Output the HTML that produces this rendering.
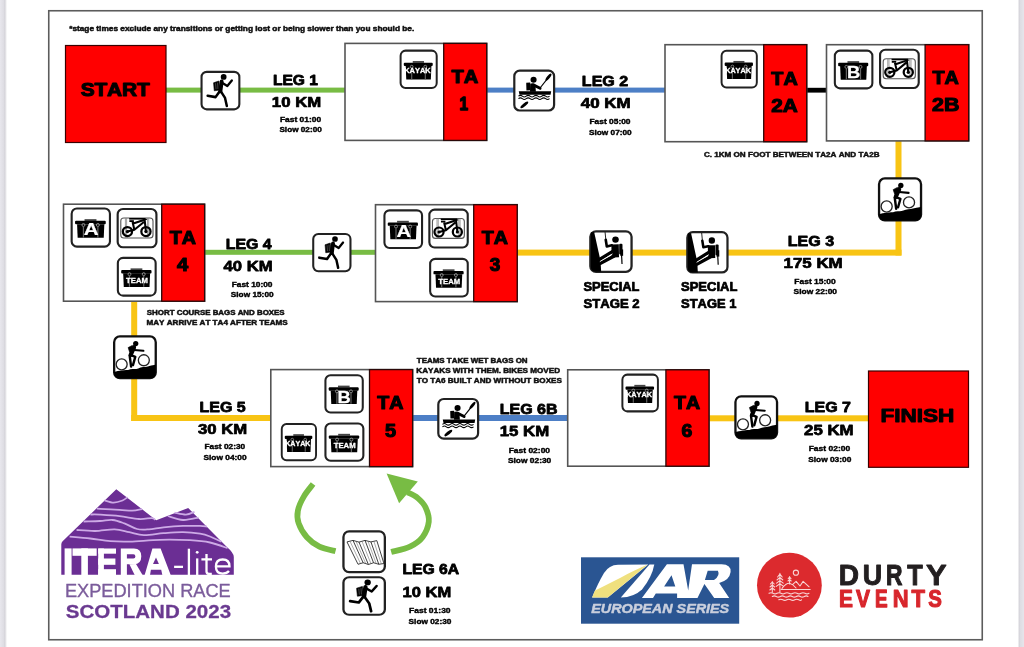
<!DOCTYPE html>
<html><head><meta charset="utf-8"><style>
html,body{margin:0;padding:0;background:#fff;width:1024px;height:647px;overflow:hidden;position:relative}
.st{position:absolute;top:0;height:647px}
svg text{font-kerning:none;font-variant-ligatures:none}
svg{display:block;filter:blur(0.45px);font-family:"Liberation Sans",sans-serif}
</style></head><body>
<svg width="1024" height="647" viewBox="0 0 1024 647">
<rect x="48.75" y="10.75" width="933.50" height="629.00" fill="none" stroke="#5c5c5c" stroke-width="1.6"/>
<rect x="166.00" y="87.60" width="180.00" height="5.00" fill="#78bc44"/>
<rect x="486.00" y="87.60" width="180.00" height="5.00" fill="#4d7fc6"/>
<rect x="806.00" y="87.80" width="21.00" height="4.80" fill="#000"/>
<rect x="895.50" y="141.00" width="6.00" height="114.50" fill="#f8c414"/>
<rect x="517.00" y="249.60" width="384.50" height="6.00" fill="#f8c414"/>
<rect x="204.00" y="249.80" width="171.00" height="5.00" fill="#78bc44"/>
<rect x="131.20" y="301.00" width="6.00" height="120.00" fill="#f8c414"/>
<rect x="131.20" y="415.00" width="140.00" height="6.00" fill="#f8c414"/>
<rect x="412.00" y="415.00" width="156.00" height="6.00" fill="#4d7fc6"/>
<rect x="709.00" y="415.30" width="160.00" height="6.00" fill="#f8c414"/>
<rect x="65.50" y="45.50" width="100.50" height="97.00" fill="#ff0000" stroke="#3a0000" stroke-width="1.2"/>
<text transform="translate(80.40,95.60) scale(1.1489,1)" font-size="18.02" font-weight="bold" fill="#000" stroke="#000" stroke-width="1.04" stroke-linejoin="round">START</text>
<rect x="868.50" y="371.00" width="100.00" height="96.30" fill="#ff0000" stroke="#3a0000" stroke-width="1.2"/>
<text transform="translate(880.39,421.80) scale(1.2532,1)" font-size="18.02" font-weight="bold" fill="#000" stroke="#000" stroke-width="0.96" stroke-linejoin="round">FINISH</text>
<rect x="345.00" y="43.40" width="141.70" height="97.00" fill="#fff" stroke="#555" stroke-width="1.6"/>
<rect x="443.70" y="43.40" width="43.00" height="97.00" fill="#ff0000" stroke="#2a0808" stroke-width="1.3"/>
<text transform="translate(451.28,83.35) scale(1.1093,1)" font-size="18.02" font-weight="bold" fill="#000" stroke="#000" stroke-width="1.08" stroke-linejoin="round">TA</text>
<text transform="translate(459.14,110.25) scale(0.8466,1)" font-size="18.02" font-weight="bold" fill="#000" stroke="#000" stroke-width="1.42" stroke-linejoin="round">1</text>
<rect x="665.00" y="44.70" width="141.70" height="97.00" fill="#fff" stroke="#555" stroke-width="1.6"/>
<rect x="763.70" y="44.70" width="43.00" height="97.00" fill="#ff0000" stroke="#2a0808" stroke-width="1.3"/>
<text transform="translate(771.28,85.00) scale(1.1008,1)" font-size="18.02" font-weight="bold" fill="#000" stroke="#000" stroke-width="1.09" stroke-linejoin="round">TA</text>
<text transform="translate(771.18,112.05) scale(1.1532,1)" font-size="18.02" font-weight="bold" fill="#000" stroke="#000" stroke-width="1.04" stroke-linejoin="round">2A</text>
<rect x="826.50" y="44.70" width="142.20" height="96.20" fill="#fff" stroke="#555" stroke-width="1.6"/>
<rect x="925.10" y="44.70" width="43.60" height="96.20" fill="#ff0000" stroke="#2a0808" stroke-width="1.3"/>
<text transform="translate(932.48,84.20) scale(1.1008,1)" font-size="18.02" font-weight="bold" fill="#000" stroke="#000" stroke-width="1.09" stroke-linejoin="round">TA</text>
<text transform="translate(931.96,111.45) scale(1.1900,1)" font-size="18.02" font-weight="bold" fill="#000" stroke="#000" stroke-width="1.01" stroke-linejoin="round">2B</text>
<rect x="63.50" y="204.20" width="141.10" height="97.00" fill="#fff" stroke="#555" stroke-width="1.6"/>
<rect x="161.70" y="204.20" width="42.90" height="97.00" fill="#ff0000" stroke="#2a0808" stroke-width="1.3"/>
<text transform="translate(169.68,244.20) scale(1.0922,1)" font-size="18.02" font-weight="bold" fill="#000" stroke="#000" stroke-width="1.10" stroke-linejoin="round">TA</text>
<text transform="translate(176.89,271.05) scale(1.1187,1)" font-size="18.02" font-weight="bold" fill="#000" stroke="#000" stroke-width="1.07" stroke-linejoin="round">4</text>
<rect x="375.50" y="204.70" width="141.70" height="96.90" fill="#fff" stroke="#555" stroke-width="1.6"/>
<rect x="473.70" y="204.70" width="43.50" height="96.90" fill="#ff0000" stroke="#2a0808" stroke-width="1.3"/>
<text transform="translate(481.68,244.20) scale(1.0922,1)" font-size="18.02" font-weight="bold" fill="#000" stroke="#000" stroke-width="1.10" stroke-linejoin="round">TA</text>
<text transform="translate(489.67,271.10) scale(1.0492,1)" font-size="18.02" font-weight="bold" fill="#000" stroke="#000" stroke-width="1.14" stroke-linejoin="round">3</text>
<rect x="270.80" y="369.60" width="141.80" height="97.00" fill="#fff" stroke="#555" stroke-width="1.6"/>
<rect x="369.50" y="369.60" width="43.10" height="97.00" fill="#ff0000" stroke="#2a0808" stroke-width="1.3"/>
<text transform="translate(377.28,409.20) scale(1.0922,1)" font-size="18.02" font-weight="bold" fill="#000" stroke="#000" stroke-width="1.10" stroke-linejoin="round">TA</text>
<text transform="translate(384.99,436.90) scale(1.1040,1)" font-size="18.02" font-weight="bold" fill="#000" stroke="#000" stroke-width="1.09" stroke-linejoin="round">5</text>
<rect x="567.70" y="369.80" width="141.30" height="96.40" fill="#fff" stroke="#555" stroke-width="1.6"/>
<rect x="665.90" y="369.80" width="43.10" height="96.40" fill="#ff0000" stroke="#2a0808" stroke-width="1.3"/>
<text transform="translate(673.98,409.20) scale(1.0879,1)" font-size="18.02" font-weight="bold" fill="#000" stroke="#000" stroke-width="1.10" stroke-linejoin="round">TA</text>
<text transform="translate(681.39,436.65) scale(1.0789,1)" font-size="18.02" font-weight="bold" fill="#000" stroke="#000" stroke-width="1.11" stroke-linejoin="round">6</text>
<text transform="translate(272.98,85.42) scale(1.0562,1)" font-size="14.75" font-weight="bold" fill="#000" stroke="#000" stroke-width="0.80" stroke-linejoin="round">LEG 1</text>
<text transform="translate(271.87,106.67) scale(1.1352,1)" font-size="14.75" font-weight="bold" fill="#000" stroke="#000" stroke-width="0.75" stroke-linejoin="round">10 KM</text>
<text transform="translate(279.96,122.43) scale(1.1936,1)" font-size="7.05" font-weight="bold" fill="#000" stroke="#000" stroke-width="0.38" stroke-linejoin="round">Fast 01:00</text>
<text transform="translate(279.39,131.88) scale(1.1643,1)" font-size="7.05" font-weight="bold" fill="#000" stroke="#000" stroke-width="0.39" stroke-linejoin="round">Slow 02:00</text>
<text transform="translate(581.85,86.42) scale(1.0876,1)" font-size="14.75" font-weight="bold" fill="#000" stroke="#000" stroke-width="0.78" stroke-linejoin="round">LEG 2</text>
<text transform="translate(580.77,107.52) scale(1.1493,1)" font-size="14.75" font-weight="bold" fill="#000" stroke="#000" stroke-width="0.74" stroke-linejoin="round">40 KM</text>
<text transform="translate(589.46,124.08) scale(1.1906,1)" font-size="7.05" font-weight="bold" fill="#000" stroke="#000" stroke-width="0.38" stroke-linejoin="round">Fast 05:00</text>
<text transform="translate(588.99,134.53) scale(1.1726,1)" font-size="7.05" font-weight="bold" fill="#000" stroke="#000" stroke-width="0.38" stroke-linejoin="round">Slow 07:00</text>
<text transform="translate(787.75,245.62) scale(1.0885,1)" font-size="14.75" font-weight="bold" fill="#000" stroke="#000" stroke-width="0.78" stroke-linejoin="round">LEG 3</text>
<text transform="translate(783.56,267.57) scale(1.1449,1)" font-size="14.75" font-weight="bold" fill="#000" stroke="#000" stroke-width="0.74" stroke-linejoin="round">175 KM</text>
<text transform="translate(794.36,284.32) scale(1.2025,1)" font-size="7.05" font-weight="bold" fill="#000" stroke="#000" stroke-width="0.37" stroke-linejoin="round">Fast 15:00</text>
<text transform="translate(793.58,294.17) scale(1.1949,1)" font-size="7.05" font-weight="bold" fill="#000" stroke="#000" stroke-width="0.38" stroke-linejoin="round">Slow 22:00</text>
<text transform="translate(225.76,249.03) scale(1.0766,1)" font-size="14.75" font-weight="bold" fill="#000" stroke="#000" stroke-width="0.79" stroke-linejoin="round">LEG 4</text>
<text transform="translate(223.57,270.78) scale(1.1304,1)" font-size="14.75" font-weight="bold" fill="#000" stroke="#000" stroke-width="0.75" stroke-linejoin="round">40 KM</text>
<text transform="translate(231.67,286.72) scale(1.1847,1)" font-size="7.05" font-weight="bold" fill="#000" stroke="#000" stroke-width="0.38" stroke-linejoin="round">Fast 10:00</text>
<text transform="translate(230.79,296.92) scale(1.1754,1)" font-size="7.05" font-weight="bold" fill="#000" stroke="#000" stroke-width="0.38" stroke-linejoin="round">Slow 15:00</text>
<text transform="translate(199.56,411.78) scale(1.0829,1)" font-size="14.75" font-weight="bold" fill="#000" stroke="#000" stroke-width="0.78" stroke-linejoin="round">LEG 5</text>
<text transform="translate(198.04,433.82) scale(1.1335,1)" font-size="14.75" font-weight="bold" fill="#000" stroke="#000" stroke-width="0.75" stroke-linejoin="round">30 KM</text>
<text transform="translate(204.47,449.42) scale(1.1817,1)" font-size="7.05" font-weight="bold" fill="#000" stroke="#000" stroke-width="0.38" stroke-linejoin="round">Fast 02:30</text>
<text transform="translate(203.48,460.02) scale(1.1865,1)" font-size="7.05" font-weight="bold" fill="#000" stroke="#000" stroke-width="0.38" stroke-linejoin="round">Slow 04:00</text>
<text transform="translate(499.75,413.57) scale(1.0857,1)" font-size="14.75" font-weight="bold" fill="#000" stroke="#000" stroke-width="0.78" stroke-linejoin="round">LEG 6B</text>
<text transform="translate(499.77,436.27) scale(1.1400,1)" font-size="14.75" font-weight="bold" fill="#000" stroke="#000" stroke-width="0.75" stroke-linejoin="round">15 KM</text>
<text transform="translate(508.66,452.87) scale(1.2025,1)" font-size="7.05" font-weight="bold" fill="#000" stroke="#000" stroke-width="0.37" stroke-linejoin="round">Fast 02:00</text>
<text transform="translate(507.88,463.42) scale(1.1921,1)" font-size="7.05" font-weight="bold" fill="#000" stroke="#000" stroke-width="0.38" stroke-linejoin="round">Slow 02:30</text>
<text transform="translate(804.75,411.53) scale(1.0843,1)" font-size="14.75" font-weight="bold" fill="#000" stroke="#000" stroke-width="0.78" stroke-linejoin="round">LEG 7</text>
<text transform="translate(804.04,434.52) scale(1.1405,1)" font-size="14.75" font-weight="bold" fill="#000" stroke="#000" stroke-width="0.75" stroke-linejoin="round">25 KM</text>
<text transform="translate(808.66,450.88) scale(1.2054,1)" font-size="7.05" font-weight="bold" fill="#000" stroke="#000" stroke-width="0.37" stroke-linejoin="round">Fast 02:00</text>
<text transform="translate(808.18,461.62) scale(1.1837,1)" font-size="7.05" font-weight="bold" fill="#000" stroke="#000" stroke-width="0.38" stroke-linejoin="round">Slow 03:00</text>
<text transform="translate(402.47,573.83) scale(1.0644,1)" font-size="14.75" font-weight="bold" fill="#000" stroke="#000" stroke-width="0.80" stroke-linejoin="round">LEG 6A</text>
<text transform="translate(402.48,597.23) scale(1.1207,1)" font-size="14.75" font-weight="bold" fill="#000" stroke="#000" stroke-width="0.76" stroke-linejoin="round">10 KM</text>
<text transform="translate(409.06,613.42) scale(1.2054,1)" font-size="7.05" font-weight="bold" fill="#000" stroke="#000" stroke-width="0.37" stroke-linejoin="round">Fast 01:30</text>
<text transform="translate(408.59,624.22) scale(1.1754,1)" font-size="7.05" font-weight="bold" fill="#000" stroke="#000" stroke-width="0.38" stroke-linejoin="round">Slow 02:30</text>
<text transform="translate(583.40,290.62) scale(1.0799,1)" font-size="11.99" font-weight="bold" fill="#000" stroke="#000" stroke-width="0.69" stroke-linejoin="round">SPECIAL</text>
<text transform="translate(583.40,307.62) scale(1.0964,1)" font-size="11.99" font-weight="bold" fill="#000" stroke="#000" stroke-width="0.68" stroke-linejoin="round">STAGE 2</text>
<text transform="translate(681.00,290.62) scale(1.0857,1)" font-size="11.99" font-weight="bold" fill="#000" stroke="#000" stroke-width="0.69" stroke-linejoin="round">SPECIAL</text>
<text transform="translate(681.00,307.62) scale(1.0814,1)" font-size="11.99" font-weight="bold" fill="#000" stroke="#000" stroke-width="0.69" stroke-linejoin="round">STAGE 1</text>
<text transform="translate(69.15,30.62) scale(1.1792,1)" font-size="7.05" font-weight="bold" fill="#111" stroke="#111" stroke-width="0.47" stroke-linejoin="round">*stage times exclude any transitions or getting lost or being slower than you should be.</text>
<text transform="translate(703.94,156.53) scale(1.2811,1)" font-size="6.32" font-weight="bold" fill="#111" stroke="#111" stroke-width="0.43" stroke-linejoin="round">C. 1KM ON FOOT BETWEEN TA2A AND TA2B</text>
<text transform="translate(146.85,314.83) scale(1.1473,1)" font-size="6.90" font-weight="bold" fill="#111" stroke="#111" stroke-width="0.48" stroke-linejoin="round">SHORT COURSE BAGS AND BOXES</text>
<text transform="translate(146.53,325.12) scale(1.1507,1)" font-size="7.05" font-weight="bold" fill="#111" stroke="#111" stroke-width="0.48" stroke-linejoin="round">MAY ARRIVE AT TA4 AFTER TEAMS</text>
<text transform="translate(416.79,362.93) scale(1.1527,1)" font-size="6.90" font-weight="bold" fill="#111" stroke="#111" stroke-width="0.48" stroke-linejoin="round">TEAMS TAKE WET BAGS ON</text>
<text transform="translate(416.33,372.83) scale(1.1296,1)" font-size="7.19" font-weight="bold" fill="#111" stroke="#111" stroke-width="0.49" stroke-linejoin="round">KAYAKS WITH THEM. BIKES MOVED</text>
<text transform="translate(416.78,382.62) scale(1.2266,1)" font-size="6.61" font-weight="bold" fill="#111" stroke="#111" stroke-width="0.45" stroke-linejoin="round">TO TA6 BUILT AND WITHOUT BOXES</text>
<g transform="translate(200.50,70.80) scale(0.9975,0.9900)"><rect x="1.05" y="1.05" width="37.9" height="37.9" rx="5.2" fill="#fff" stroke="#222" stroke-width="2.1"/>
<circle cx="23.2" cy="6.2" r="2.9" fill="#000"/>
<path d="M13.1 12.1 L18.4 10.3 L19.3 19.5 L13.8 20.2 Z" fill="#000" stroke="#000" stroke-width="0.6" stroke-linejoin="round"/>
<path d="M15.1 12.6 L15.6 18.6 M17.1 12 L17.5 18.4" stroke="#999" stroke-width="0.45"/>
<path d="M21.2 10.8 L19.9 20.6" stroke="#000" stroke-width="4.0" stroke-linecap="round"/>
<path d="M22.4 12.6 L26.9 15.4 L31.4 9.8" stroke="#000" stroke-width="2.3" fill="none" stroke-linecap="round" stroke-linejoin="round"/>
<path d="M19.3 20.6 L15.1 26.6 L7.2 25.2" stroke="#000" stroke-width="2.6" fill="none" stroke-linecap="round" stroke-linejoin="round"/>
<path d="M20.4 20.8 L24.6 27.4 L26.4 35.6" stroke="#000" stroke-width="2.5" fill="none" stroke-linecap="round" stroke-linejoin="round"/>
</g>
<g transform="translate(312.20,232.90) scale(0.9825,0.9825)"><rect x="1.05" y="1.05" width="37.9" height="37.9" rx="5.2" fill="#fff" stroke="#222" stroke-width="2.1"/>
<circle cx="23.2" cy="6.2" r="2.9" fill="#000"/>
<path d="M13.1 12.1 L18.4 10.3 L19.3 19.5 L13.8 20.2 Z" fill="#000" stroke="#000" stroke-width="0.6" stroke-linejoin="round"/>
<path d="M15.1 12.6 L15.6 18.6 M17.1 12 L17.5 18.4" stroke="#999" stroke-width="0.45"/>
<path d="M21.2 10.8 L19.9 20.6" stroke="#000" stroke-width="4.0" stroke-linecap="round"/>
<path d="M22.4 12.6 L26.9 15.4 L31.4 9.8" stroke="#000" stroke-width="2.3" fill="none" stroke-linecap="round" stroke-linejoin="round"/>
<path d="M19.3 20.6 L15.1 26.6 L7.2 25.2" stroke="#000" stroke-width="2.6" fill="none" stroke-linecap="round" stroke-linejoin="round"/>
<path d="M20.4 20.8 L24.6 27.4 L26.4 35.6" stroke="#000" stroke-width="2.5" fill="none" stroke-linecap="round" stroke-linejoin="round"/>
</g>
<g transform="translate(342.30,576.30) scale(1.0925,0.9850)"><rect x="1.05" y="1.05" width="37.9" height="37.9" rx="5.2" fill="#fff" stroke="#222" stroke-width="2.1"/>
<circle cx="23.2" cy="6.2" r="2.9" fill="#000"/>
<path d="M13.1 12.1 L18.4 10.3 L19.3 19.5 L13.8 20.2 Z" fill="#000" stroke="#000" stroke-width="0.6" stroke-linejoin="round"/>
<path d="M15.1 12.6 L15.6 18.6 M17.1 12 L17.5 18.4" stroke="#999" stroke-width="0.45"/>
<path d="M21.2 10.8 L19.9 20.6" stroke="#000" stroke-width="4.0" stroke-linecap="round"/>
<path d="M22.4 12.6 L26.9 15.4 L31.4 9.8" stroke="#000" stroke-width="2.3" fill="none" stroke-linecap="round" stroke-linejoin="round"/>
<path d="M19.3 20.6 L15.1 26.6 L7.2 25.2" stroke="#000" stroke-width="2.6" fill="none" stroke-linecap="round" stroke-linejoin="round"/>
<path d="M20.4 20.8 L24.6 27.4 L26.4 35.6" stroke="#000" stroke-width="2.5" fill="none" stroke-linecap="round" stroke-linejoin="round"/>
</g>
<g transform="translate(513.20,69.60) scale(1.0500,1.0500)"><rect x="1.05" y="1.05" width="37.9" height="37.9" rx="5.2" fill="#fff" stroke="#222" stroke-width="2.1"/>
<circle cx="19.4" cy="9.6" r="2.9" fill="#000"/>
<path d="M12.4 12.6 L16.2 12.2 L16.4 19.6 L12.6 19.8 Z" fill="#000"/>
<path d="M16.2 13.4 Q19.4 12.2 21.2 14.6 L21.6 21 L16 21 Z" fill="#000"/>
<path d="M19.2 14.6 L25.6 17.8" stroke="#000" stroke-width="2.8" stroke-linecap="round"/>
<path d="M25.2 18 L33.4 7.6" stroke="#000" stroke-width="1.1"/>
<ellipse cx="33.6" cy="7.2" rx="1.4" ry="4.2" transform="rotate(38 33.6 7.2)" fill="#000"/>
<ellipse cx="10.6" cy="33.6" rx="1.5" ry="4.6" transform="rotate(51 10.6 33.6)" fill="#000"/>
<path d="M5.3 20.7 L36.2 20.7 L35.6 23.9 L6 23.9 Z" fill="#000"/>
<path d="M5 25.3 q1.85 -1.5 3.7 0 t3.7 0 t3.7 0 t3.7 0 t3.7 0 t3.7 0 t3.7 0 t3.7 0" stroke="#000" stroke-width="1.0" fill="none"/>
<path d="M5 27.7 q1.85 -1.5 3.7 0 t3.7 0 t3.7 0 t3.7 0 t3.7 0 t3.7 0 t3.7 0 t3.7 0" stroke="#000" stroke-width="1.0" fill="none"/>
</g>
<g transform="translate(437.20,397.90) scale(1.0500,1.0450)"><rect x="1.05" y="1.05" width="37.9" height="37.9" rx="5.2" fill="#fff" stroke="#222" stroke-width="2.1"/>
<circle cx="19.4" cy="9.6" r="2.9" fill="#000"/>
<path d="M12.4 12.6 L16.2 12.2 L16.4 19.6 L12.6 19.8 Z" fill="#000"/>
<path d="M16.2 13.4 Q19.4 12.2 21.2 14.6 L21.6 21 L16 21 Z" fill="#000"/>
<path d="M19.2 14.6 L25.6 17.8" stroke="#000" stroke-width="2.8" stroke-linecap="round"/>
<path d="M25.2 18 L33.4 7.6" stroke="#000" stroke-width="1.1"/>
<ellipse cx="33.6" cy="7.2" rx="1.4" ry="4.2" transform="rotate(38 33.6 7.2)" fill="#000"/>
<ellipse cx="10.6" cy="33.6" rx="1.5" ry="4.6" transform="rotate(51 10.6 33.6)" fill="#000"/>
<path d="M5.3 20.7 L36.2 20.7 L35.6 23.9 L6 23.9 Z" fill="#000"/>
<path d="M5 25.3 q1.85 -1.5 3.7 0 t3.7 0 t3.7 0 t3.7 0 t3.7 0 t3.7 0 t3.7 0 t3.7 0" stroke="#000" stroke-width="1.0" fill="none"/>
<path d="M5 27.7 q1.85 -1.5 3.7 0 t3.7 0 t3.7 0 t3.7 0 t3.7 0 t3.7 0 t3.7 0 t3.7 0" stroke="#000" stroke-width="1.0" fill="none"/>
</g>
<g transform="translate(877.90,177.20) scale(1.1075,1.1100)"><rect x="1.05" y="1.05" width="37.9" height="37.9" rx="5.2" fill="#fff" stroke="#111" stroke-width="2.1"/>
<path d="M1 33.4 Q4 32.2 7.9 32.1 Q11 31.2 13.7 31.6 Q16 30.4 18.7 30.6 Q21 30.8 23 30.1 Q25 29.0 27.3 28.9 Q29.5 28.9 31.7 28.3 Q35 27.2 37.5 27.0 L39 26.6 V34 Q39 39 34 39 H6 Q1 39 1 34 Z" fill="#000"/>
<circle cx="7.9" cy="26.4" r="5" fill="#fff" stroke="#222" stroke-width="1.2"/>
<circle cx="28.1" cy="22.7" r="5" fill="#fff" stroke="#222" stroke-width="1.2"/>
<circle cx="20.7" cy="7.5" r="2.4" fill="#000"/>
<path d="M13.8 11.2 L17.6 9.2 L19.2 13.6 L15.2 15.4 Z" fill="#000" stroke="#000" stroke-width="0.6" stroke-linejoin="round"/>
<path d="M17.6 10.6 L19.9 13.2" stroke="#fff" stroke-width="0.5"/>
<path d="M19.2 10.9 L16.1 17.8" stroke="#000" stroke-width="3.8" stroke-linecap="round"/>
<path d="M19.4 13.4 L27.7 14.1" stroke="#000" stroke-width="1.9" stroke-linecap="round"/>
<path d="M15.8 17.8 L20.3 19.6 L18.2 27.1" stroke="#000" stroke-width="2.2" fill="none" stroke-linecap="round" stroke-linejoin="round"/>
<path d="M15.2 18.4 L16.5 28.4" stroke="#000" stroke-width="2.2" stroke-linecap="round"/>
</g>
<g transform="translate(113.00,335.30) scale(1.0975,1.1000)"><rect x="1.05" y="1.05" width="37.9" height="37.9" rx="5.2" fill="#fff" stroke="#111" stroke-width="2.1"/>
<path d="M1 33.4 Q4 32.2 7.9 32.1 Q11 31.2 13.7 31.6 Q16 30.4 18.7 30.6 Q21 30.8 23 30.1 Q25 29.0 27.3 28.9 Q29.5 28.9 31.7 28.3 Q35 27.2 37.5 27.0 L39 26.6 V34 Q39 39 34 39 H6 Q1 39 1 34 Z" fill="#000"/>
<circle cx="7.9" cy="26.4" r="5" fill="#fff" stroke="#222" stroke-width="1.2"/>
<circle cx="28.1" cy="22.7" r="5" fill="#fff" stroke="#222" stroke-width="1.2"/>
<circle cx="20.7" cy="7.5" r="2.4" fill="#000"/>
<path d="M13.8 11.2 L17.6 9.2 L19.2 13.6 L15.2 15.4 Z" fill="#000" stroke="#000" stroke-width="0.6" stroke-linejoin="round"/>
<path d="M17.6 10.6 L19.9 13.2" stroke="#fff" stroke-width="0.5"/>
<path d="M19.2 10.9 L16.1 17.8" stroke="#000" stroke-width="3.8" stroke-linecap="round"/>
<path d="M19.4 13.4 L27.7 14.1" stroke="#000" stroke-width="1.9" stroke-linecap="round"/>
<path d="M15.8 17.8 L20.3 19.6 L18.2 27.1" stroke="#000" stroke-width="2.2" fill="none" stroke-linecap="round" stroke-linejoin="round"/>
<path d="M15.2 18.4 L16.5 28.4" stroke="#000" stroke-width="2.2" stroke-linecap="round"/>
</g>
<g transform="translate(734.30,395.20) scale(1.0975,1.1050)"><rect x="1.05" y="1.05" width="37.9" height="37.9" rx="5.2" fill="#fff" stroke="#111" stroke-width="2.1"/>
<path d="M1 33.4 Q4 32.2 7.9 32.1 Q11 31.2 13.7 31.6 Q16 30.4 18.7 30.6 Q21 30.8 23 30.1 Q25 29.0 27.3 28.9 Q29.5 28.9 31.7 28.3 Q35 27.2 37.5 27.0 L39 26.6 V34 Q39 39 34 39 H6 Q1 39 1 34 Z" fill="#000"/>
<circle cx="7.9" cy="26.4" r="5" fill="#fff" stroke="#222" stroke-width="1.2"/>
<circle cx="28.1" cy="22.7" r="5" fill="#fff" stroke="#222" stroke-width="1.2"/>
<circle cx="20.7" cy="7.5" r="2.4" fill="#000"/>
<path d="M13.8 11.2 L17.6 9.2 L19.2 13.6 L15.2 15.4 Z" fill="#000" stroke="#000" stroke-width="0.6" stroke-linejoin="round"/>
<path d="M17.6 10.6 L19.9 13.2" stroke="#fff" stroke-width="0.5"/>
<path d="M19.2 10.9 L16.1 17.8" stroke="#000" stroke-width="3.8" stroke-linecap="round"/>
<path d="M19.4 13.4 L27.7 14.1" stroke="#000" stroke-width="1.9" stroke-linecap="round"/>
<path d="M15.8 17.8 L20.3 19.6 L18.2 27.1" stroke="#000" stroke-width="2.2" fill="none" stroke-linecap="round" stroke-linejoin="round"/>
<path d="M15.2 18.4 L16.5 28.4" stroke="#000" stroke-width="2.2" stroke-linecap="round"/>
</g>
<g transform="translate(589.20,230.20) scale(1.0875,1.0675)"><rect x="1.05" y="1.05" width="37.9" height="37.9" rx="5.2" fill="#fff" stroke="#222" stroke-width="2.1"/>
<path d="M1.5 2 H4.6 L10.4 28.6 L11 39 H6 Q1.5 39 1.5 34 Z" fill="#000"/>
<path d="M14.6 1.8 L15.3 9" stroke="#000" stroke-width="0.8"/>
<circle cx="24.2" cy="8.8" r="3" fill="#000"/>
<path d="M20.8 14.2 L16.2 15.2 L15.2 9" stroke="#000" stroke-width="2.4" fill="none" stroke-linecap="round" stroke-linejoin="round"/>
<path d="M20.4 13.4 L27.2 13.2 L27.4 25.4 L20.6 25.6 Z" fill="#000"/>
<path d="M22 19.6 L9.6 27.4" stroke="#000" stroke-width="3.2" stroke-linecap="round"/>
<path d="M23 24.2 L10.4 31" stroke="#000" stroke-width="3.2" stroke-linecap="round"/>
<path d="M21.4 22.2 L9.8 29.4" stroke="#fff" stroke-width="0.8"/>
<rect x="27.6" y="12.6" width="3" height="10.2" rx="1" fill="#000"/>
<path d="M29.6 20 L30.2 31.6" stroke="#000" stroke-width="1.1"/>
<rect x="28.6" y="18" width="2.6" height="6" fill="#000"/>
</g>
<g transform="translate(686.20,231.10) scale(1.0600,1.0625)"><rect x="1.05" y="1.05" width="37.9" height="37.9" rx="5.2" fill="#fff" stroke="#222" stroke-width="2.1"/>
<path d="M1.5 2 H4.6 L10.4 28.6 L11 39 H6 Q1.5 39 1.5 34 Z" fill="#000"/>
<path d="M14.6 1.8 L15.3 9" stroke="#000" stroke-width="0.8"/>
<circle cx="24.2" cy="8.8" r="3" fill="#000"/>
<path d="M20.8 14.2 L16.2 15.2 L15.2 9" stroke="#000" stroke-width="2.4" fill="none" stroke-linecap="round" stroke-linejoin="round"/>
<path d="M20.4 13.4 L27.2 13.2 L27.4 25.4 L20.6 25.6 Z" fill="#000"/>
<path d="M22 19.6 L9.6 27.4" stroke="#000" stroke-width="3.2" stroke-linecap="round"/>
<path d="M23 24.2 L10.4 31" stroke="#000" stroke-width="3.2" stroke-linecap="round"/>
<path d="M21.4 22.2 L9.8 29.4" stroke="#fff" stroke-width="0.8"/>
<rect x="27.6" y="12.6" width="3" height="10.2" rx="1" fill="#000"/>
<path d="M29.6 20 L30.2 31.6" stroke="#000" stroke-width="1.1"/>
<rect x="28.6" y="18" width="2.6" height="6" fill="#000"/>
</g>
<g transform="translate(342.30,530.30) scale(1.0925,1.0750)"><rect x="1.05" y="1.05" width="37.9" height="37.9" rx="5.2" fill="#fff" stroke="#222" stroke-width="2.1"/>
<path d="M4.3 10.8 L9.8 9.4 L15.3 11 L20.8 9.4 L26.2 10.8 L31.6 9.6 L38.1 30.9 L33.4 31.6 L28.6 30.2 L23.9 31.8 L19.1 30.2 L14.4 31.6 Z" fill="#fff" stroke="#222" stroke-width="0.8" stroke-linejoin="round"/>
<path d="M9.8 9.4 L19.1 30.2 M15.3 11 L23.9 31.8 M20.8 9.4 L28.6 30.2 M26.2 10.8 L33.4 31.6" stroke="#222" stroke-width="0.8"/>
<path d="M7 10.1 L16.7 30.9 M12.5 10.2 L21.5 31 M18 10.2 L26.2 31 M23.5 10.1 L31 30.9 M28.9 10.2 L35.7 31.2" stroke="#666" stroke-width="0.5"/>
</g>
<g transform="translate(879.00,48.70) scale(1.0200,1.0100)"><rect x="1.05" y="1.05" width="37.9" height="37.9" rx="5.2" fill="#fff" stroke="#222" stroke-width="2.1"/>
<rect x="4.1" y="9.9" width="31.5" height="19.9" rx="3" fill="none" stroke="#555" stroke-width="1.1"/>
<path d="M8.6 9.9 V29.8 M9.8 9.9 V29.8 M30.2 9.9 V29.8 M31.4 9.9 V29.8" stroke="#888" stroke-width="0.8"/>
<path d="M12.3 10.7 H28.4" stroke="#000" stroke-width="1.6"/>
<circle cx="10.6" cy="23.4" r="4.5" fill="none" stroke="#000" stroke-width="2.2"/>
<circle cx="28.7" cy="23.4" r="4.5" fill="none" stroke="#000" stroke-width="2.2"/>
<circle cx="10.6" cy="23.4" r="1.6" fill="#000"/><circle cx="28.7" cy="23.4" r="1.6" fill="#000"/>
<path d="M10.6 23.4 L17.4 21.6 L26.7 13.8 M16.3 15.4 L27.4 11.6 L28.7 23.4 M15.6 13.9 L17.4 21.6" stroke="#000" stroke-width="2.0" fill="none" stroke-linejoin="round"/>
<rect x="12.5" y="12.1" width="4.4" height="1.8" fill="#000"/>
<path d="M26.2 11.6 L29.6 11.2" stroke="#000" stroke-width="1.2"/>
</g>
<g transform="translate(116.60,208.00) scale(1.0225,1.0075)"><rect x="1.05" y="1.05" width="37.9" height="37.9" rx="5.2" fill="#fff" stroke="#222" stroke-width="2.1"/>
<rect x="4.1" y="9.9" width="31.5" height="19.9" rx="3" fill="none" stroke="#555" stroke-width="1.1"/>
<path d="M8.6 9.9 V29.8 M9.8 9.9 V29.8 M30.2 9.9 V29.8 M31.4 9.9 V29.8" stroke="#888" stroke-width="0.8"/>
<path d="M12.3 10.7 H28.4" stroke="#000" stroke-width="1.6"/>
<circle cx="10.6" cy="23.4" r="4.5" fill="none" stroke="#000" stroke-width="2.2"/>
<circle cx="28.7" cy="23.4" r="4.5" fill="none" stroke="#000" stroke-width="2.2"/>
<circle cx="10.6" cy="23.4" r="1.6" fill="#000"/><circle cx="28.7" cy="23.4" r="1.6" fill="#000"/>
<path d="M10.6 23.4 L17.4 21.6 L26.7 13.8 M16.3 15.4 L27.4 11.6 L28.7 23.4 M15.6 13.9 L17.4 21.6" stroke="#000" stroke-width="2.0" fill="none" stroke-linejoin="round"/>
<rect x="12.5" y="12.1" width="4.4" height="1.8" fill="#000"/>
<path d="M26.2 11.6 L29.6 11.2" stroke="#000" stroke-width="1.2"/>
</g>
<g transform="translate(428.30,208.60) scale(1.0125,1.0000)"><rect x="1.05" y="1.05" width="37.9" height="37.9" rx="5.2" fill="#fff" stroke="#222" stroke-width="2.1"/>
<rect x="4.1" y="9.9" width="31.5" height="19.9" rx="3" fill="none" stroke="#555" stroke-width="1.1"/>
<path d="M8.6 9.9 V29.8 M9.8 9.9 V29.8 M30.2 9.9 V29.8 M31.4 9.9 V29.8" stroke="#888" stroke-width="0.8"/>
<path d="M12.3 10.7 H28.4" stroke="#000" stroke-width="1.6"/>
<circle cx="10.6" cy="23.4" r="4.5" fill="none" stroke="#000" stroke-width="2.2"/>
<circle cx="28.7" cy="23.4" r="4.5" fill="none" stroke="#000" stroke-width="2.2"/>
<circle cx="10.6" cy="23.4" r="1.6" fill="#000"/><circle cx="28.7" cy="23.4" r="1.6" fill="#000"/>
<path d="M10.6 23.4 L17.4 21.6 L26.7 13.8 M16.3 15.4 L27.4 11.6 L28.7 23.4 M15.6 13.9 L17.4 21.6" stroke="#000" stroke-width="2.0" fill="none" stroke-linejoin="round"/>
<rect x="12.5" y="12.1" width="4.4" height="1.8" fill="#000"/>
<path d="M26.2 11.6 L29.6 11.2" stroke="#000" stroke-width="1.2"/>
</g>
<g transform="translate(399.60,49.60) scale(0.9525,0.9875)"><rect x="1.05" y="1.05" width="37.9" height="37.9" rx="5.2" fill="#fff" stroke="#222" stroke-width="2.1"/>
<rect x="13.8" y="11.6" width="11.8" height="1.8" fill="#444"/>
<rect x="4.4" y="13.3" width="30.4" height="3.4" rx="1" fill="#000"/>
<path d="M6.4 16.6 H33.4 L32.8 30.2 H7 Z" fill="#000"/>
<circle cx="12.7" cy="17.4" r="1.5" fill="none" stroke="#ccc" stroke-width="0.6"/>
<circle cx="27" cy="17.4" r="1.5" fill="none" stroke="#ccc" stroke-width="0.6"/>
<path d="M12.7 19 V30 M27 19 V30" stroke="#666" stroke-width="1.2"/>
</g>
<text transform="translate(404.24,73.48) scale(1.0163,1)" font-size="7.34" font-weight="bold" fill="#fff" stroke="#fff" stroke-width="0.30" stroke-linejoin="round">KAYAK</text>
<g transform="translate(720.60,49.70) scale(0.9300,0.9700)"><rect x="1.05" y="1.05" width="37.9" height="37.9" rx="5.2" fill="#fff" stroke="#222" stroke-width="2.1"/>
<rect x="13.8" y="11.6" width="11.8" height="1.8" fill="#444"/>
<rect x="4.4" y="13.3" width="30.4" height="3.4" rx="1" fill="#000"/>
<path d="M6.4 16.6 H33.4 L32.8 30.2 H7 Z" fill="#000"/>
<circle cx="12.7" cy="17.4" r="1.5" fill="none" stroke="#ccc" stroke-width="0.6"/>
<circle cx="27" cy="17.4" r="1.5" fill="none" stroke="#ccc" stroke-width="0.6"/>
<path d="M12.7 19 V30 M27 19 V30" stroke="#666" stroke-width="1.2"/>
</g>
<text transform="translate(725.14,73.15) scale(1.0109,1)" font-size="7.20" font-weight="bold" fill="#fff" stroke="#fff" stroke-width="0.30" stroke-linejoin="round">KAYAK</text>
<g transform="translate(280.80,423.10) scale(0.9050,0.9550)"><rect x="1.05" y="1.05" width="37.9" height="37.9" rx="5.2" fill="#fff" stroke="#222" stroke-width="2.1"/>
<rect x="13.8" y="11.6" width="11.8" height="1.8" fill="#444"/>
<rect x="4.4" y="13.3" width="30.4" height="3.4" rx="1" fill="#000"/>
<path d="M6.4 16.6 H33.4 L32.8 30.2 H7 Z" fill="#000"/>
<circle cx="12.7" cy="17.4" r="1.5" fill="none" stroke="#ccc" stroke-width="0.6"/>
<circle cx="27" cy="17.4" r="1.5" fill="none" stroke="#ccc" stroke-width="0.6"/>
<path d="M12.7 19 V30 M27 19 V30" stroke="#666" stroke-width="1.2"/>
</g>
<text transform="translate(285.23,446.19) scale(0.9996,1)" font-size="7.08" font-weight="bold" fill="#fff" stroke="#fff" stroke-width="0.30" stroke-linejoin="round">KAYAK</text>
<g transform="translate(621.40,373.60) scale(0.9375,0.9700)"><rect x="1.05" y="1.05" width="37.9" height="37.9" rx="5.2" fill="#fff" stroke="#222" stroke-width="2.1"/>
<rect x="13.8" y="11.6" width="11.8" height="1.8" fill="#444"/>
<rect x="4.4" y="13.3" width="30.4" height="3.4" rx="1" fill="#000"/>
<path d="M6.4 16.6 H33.4 L32.8 30.2 H7 Z" fill="#000"/>
<circle cx="12.7" cy="17.4" r="1.5" fill="none" stroke="#ccc" stroke-width="0.6"/>
<circle cx="27" cy="17.4" r="1.5" fill="none" stroke="#ccc" stroke-width="0.6"/>
<path d="M12.7 19 V30 M27 19 V30" stroke="#666" stroke-width="1.2"/>
</g>
<text transform="translate(625.97,397.05) scale(1.0193,1)" font-size="7.20" font-weight="bold" fill="#fff" stroke="#fff" stroke-width="0.29" stroke-linejoin="round">KAYAK</text>
<g transform="translate(833.80,49.60) scale(0.9900,0.9950)"><rect x="1.05" y="1.05" width="37.9" height="37.9" rx="5.2" fill="#fff" stroke="#222" stroke-width="2.1"/>
<rect x="13.8" y="11.6" width="11.8" height="1.8" fill="#444"/>
<rect x="4.4" y="13.3" width="30.4" height="3.4" rx="1" fill="#000"/>
<path d="M6.4 16.6 H33.4 L32.8 30.2 H7 Z" fill="#000"/>
<circle cx="12.7" cy="17.4" r="1.5" fill="none" stroke="#ccc" stroke-width="0.6"/>
<circle cx="27" cy="17.4" r="1.5" fill="none" stroke="#ccc" stroke-width="0.6"/>
<path d="M12.7 19 V30 M27 19 V30" stroke="#666" stroke-width="1.2"/>
</g>
<text transform="translate(846.96,78.27) scale(1.1523,1)" font-size="15.94" font-weight="bold" fill="#fff" stroke="#fff" stroke-width="0.26" stroke-linejoin="round">B</text>
<g transform="translate(324.40,374.20) scale(0.9850,0.9850)"><rect x="1.05" y="1.05" width="37.9" height="37.9" rx="5.2" fill="#fff" stroke="#222" stroke-width="2.1"/>
<rect x="13.8" y="11.6" width="11.8" height="1.8" fill="#444"/>
<rect x="4.4" y="13.3" width="30.4" height="3.4" rx="1" fill="#000"/>
<path d="M6.4 16.6 H33.4 L32.8 30.2 H7 Z" fill="#000"/>
<circle cx="12.7" cy="17.4" r="1.5" fill="none" stroke="#ccc" stroke-width="0.6"/>
<circle cx="27" cy="17.4" r="1.5" fill="none" stroke="#ccc" stroke-width="0.6"/>
<path d="M12.7 19 V30 M27 19 V30" stroke="#666" stroke-width="1.2"/>
</g>
<text transform="translate(337.50,402.58) scale(1.1584,1)" font-size="15.78" font-weight="bold" fill="#fff" stroke="#fff" stroke-width="0.26" stroke-linejoin="round">B</text>
<g transform="translate(70.60,207.50) scale(1.0100,1.0050)"><rect x="1.05" y="1.05" width="37.9" height="37.9" rx="5.2" fill="#fff" stroke="#222" stroke-width="2.1"/>
<rect x="13.8" y="11.6" width="11.8" height="1.8" fill="#444"/>
<rect x="4.4" y="13.3" width="30.4" height="3.4" rx="1" fill="#000"/>
<path d="M6.4 16.6 H33.4 L32.8 30.2 H7 Z" fill="#000"/>
<circle cx="12.7" cy="17.4" r="1.5" fill="none" stroke="#ccc" stroke-width="0.6"/>
<circle cx="27" cy="17.4" r="1.5" fill="none" stroke="#ccc" stroke-width="0.6"/>
<path d="M12.7 19 V30 M27 19 V30" stroke="#666" stroke-width="1.2"/>
</g>
<text transform="translate(83.87,235.17) scale(1.1842,1)" font-size="17.41" font-weight="bold" fill="#fff" stroke="#fff" stroke-width="0.25" stroke-linejoin="round">A</text>
<g transform="translate(383.40,209.30) scale(0.9925,0.9925)"><rect x="1.05" y="1.05" width="37.9" height="37.9" rx="5.2" fill="#fff" stroke="#222" stroke-width="2.1"/>
<rect x="13.8" y="11.6" width="11.8" height="1.8" fill="#444"/>
<rect x="4.4" y="13.3" width="30.4" height="3.4" rx="1" fill="#000"/>
<path d="M6.4 16.6 H33.4 L32.8 30.2 H7 Z" fill="#000"/>
<circle cx="12.7" cy="17.4" r="1.5" fill="none" stroke="#ccc" stroke-width="0.6"/>
<circle cx="27" cy="17.4" r="1.5" fill="none" stroke="#ccc" stroke-width="0.6"/>
<path d="M12.7 19 V30 M27 19 V30" stroke="#666" stroke-width="1.2"/>
</g>
<text transform="translate(396.44,236.62) scale(1.1781,1)" font-size="17.18" font-weight="bold" fill="#fff" stroke="#fff" stroke-width="0.25" stroke-linejoin="round">A</text>
<g transform="translate(116.80,256.80) scale(0.9975,0.9975)"><rect x="1.05" y="1.05" width="37.9" height="37.9" rx="5.2" fill="#fff" stroke="#222" stroke-width="2.1"/>
<rect x="13.8" y="11.6" width="11.8" height="1.8" fill="#444"/>
<rect x="4.4" y="13.3" width="30.4" height="3.4" rx="1" fill="#000"/>
<path d="M6.4 16.6 H33.4 L32.8 30.2 H7 Z" fill="#000"/>
<circle cx="12.7" cy="17.4" r="1.5" fill="none" stroke="#ccc" stroke-width="0.6"/>
<circle cx="27" cy="17.4" r="1.5" fill="none" stroke="#ccc" stroke-width="0.6"/>
<path d="M12.7 19 V30 M27 19 V30" stroke="#666" stroke-width="1.2"/>
</g>
<text transform="translate(126.10,283.08) scale(1.1018,1)" font-size="6.99" font-weight="bold" fill="#fff" stroke="#fff" stroke-width="0.27" stroke-linejoin="round">TEAM</text>
<g transform="translate(429.10,257.80) scale(0.9925,0.9925)"><rect x="1.05" y="1.05" width="37.9" height="37.9" rx="5.2" fill="#fff" stroke="#222" stroke-width="2.1"/>
<rect x="13.8" y="11.6" width="11.8" height="1.8" fill="#444"/>
<rect x="4.4" y="13.3" width="30.4" height="3.4" rx="1" fill="#000"/>
<path d="M6.4 16.6 H33.4 L32.8 30.2 H7 Z" fill="#000"/>
<circle cx="12.7" cy="17.4" r="1.5" fill="none" stroke="#ccc" stroke-width="0.6"/>
<circle cx="27" cy="17.4" r="1.5" fill="none" stroke="#ccc" stroke-width="0.6"/>
<path d="M12.7 19 V30 M27 19 V30" stroke="#666" stroke-width="1.2"/>
</g>
<text transform="translate(438.36,283.95) scale(1.1021,1)" font-size="6.95" font-weight="bold" fill="#fff" stroke="#fff" stroke-width="0.27" stroke-linejoin="round">TEAM</text>
<g transform="translate(324.40,422.40) scale(1.0000,0.9850)"><rect x="1.05" y="1.05" width="37.9" height="37.9" rx="5.2" fill="#fff" stroke="#222" stroke-width="2.1"/>
<rect x="13.8" y="11.6" width="11.8" height="1.8" fill="#444"/>
<rect x="4.4" y="13.3" width="30.4" height="3.4" rx="1" fill="#000"/>
<path d="M6.4 16.6 H33.4 L32.8 30.2 H7 Z" fill="#000"/>
<circle cx="12.7" cy="17.4" r="1.5" fill="none" stroke="#ccc" stroke-width="0.6"/>
<circle cx="27" cy="17.4" r="1.5" fill="none" stroke="#ccc" stroke-width="0.6"/>
<path d="M12.7 19 V30 M27 19 V30" stroke="#666" stroke-width="1.2"/>
</g>
<text transform="translate(333.73,448.35) scale(1.1198,1)" font-size="6.90" font-weight="bold" fill="#fff" stroke="#fff" stroke-width="0.27" stroke-linejoin="round">TEAM</text>
<path d="M61.3 574.8 V544.6 Q61.3 542.6 62.6 541.2 L116.3 489.2 L156.2 520.2 L188.2 508.1 L226.4 546.6 Q233.8 553 233.8 557 V574.8 Z" fill="#6b2e94"/>
<path d="M104.5 500.3 C106.0 500.7 110.7 502.6 113.7 502.6 C116.7 502.6 120.2 501.4 122.5 500.5 C124.8 499.6 126.7 497.8 127.5 497.2" fill="none" stroke="#cdaae6" stroke-width="1.8"/>
<path d="M96.8 508.7 C97.3 508.7 96.2 508.6 100.0 508.8 C103.8 509.0 114.1 509.5 119.5 509.8 C124.9 510.1 128.4 510.8 132.2 510.7 C135.9 510.6 140.4 509.3 142.0 509.0" fill="none" stroke="#cdaae6" stroke-width="1.8"/>
<path d="M90.4 514.5 C92.0 514.5 95.2 514.3 100.0 514.6 C104.8 514.9 113.0 515.4 119.5 516.1 C126.0 516.8 133.6 518.7 139.0 519.0 C144.4 519.3 149.1 518.0 151.8 518.1 C154.5 518.2 154.5 519.4 155.0 519.6" fill="none" stroke="#cdaae6" stroke-width="1.8"/>
<path d="M83.6 521.5 C86.3 521.4 95.2 521.2 100.0 521.0 C104.8 520.8 108.6 519.6 112.7 520.0 C116.8 520.4 120.3 521.9 124.4 523.4 C128.5 524.9 133.0 528.0 137.1 529.0 C141.2 530.0 144.4 529.6 148.8 529.3 C153.2 529.0 157.8 527.9 163.5 527.3 C169.2 526.7 176.9 526.1 183.0 525.9 C189.1 525.7 196.0 525.8 200.0 525.9 C204.0 526.0 205.8 526.5 207.0 526.6" fill="none" stroke="#cdaae6" stroke-width="1.8"/>
<path d="M76.6 530.0 C79.7 530.2 88.9 531.1 95.2 531.0 C101.5 530.9 108.9 529.1 114.6 529.3 C120.3 529.5 124.4 531.2 129.3 532.2 C134.2 533.2 138.2 535.0 143.9 535.2 C149.6 535.4 157.0 533.7 163.5 533.2 C170.0 532.7 176.9 532.1 183.0 532.2 C189.1 532.3 195.5 533.0 200.0 533.7 C204.5 534.4 206.4 535.1 210.0 536.5 C213.6 537.9 219.6 540.9 221.5 541.8" fill="none" stroke="#cdaae6" stroke-width="1.8"/>
<path d="M69.6 536.6 C73.0 536.9 83.4 537.7 90.2 538.5 C97.0 539.3 103.7 540.7 110.3 541.2 C116.9 541.7 121.7 541.8 130.0 541.6 C138.3 541.4 150.0 540.0 160.0 539.8 C170.0 539.6 181.7 539.8 190.0 540.2 C198.3 540.7 203.8 541.2 210.0 542.5 C216.2 543.8 224.6 547.2 227.5 548.2" fill="none" stroke="#cdaae6" stroke-width="1.8"/>
<path d="M174.5 512.6 C176.4 512.9 182.6 514.7 185.9 514.6 C189.2 514.5 193.1 512.3 194.5 511.8" fill="none" stroke="#cdaae6" stroke-width="1.8"/>
<path d="M167.8 516.0 C170.3 516.7 177.9 519.7 183.0 520.0 C188.1 520.3 195.9 518.0 198.5 517.6" fill="none" stroke="#cdaae6" stroke-width="1.8"/>
<g fill="#fff">
<rect x="64.6" y="548.4" width="7" height="26.800000000000068"/>
<rect x="72.5" y="548.4" width="24.2" height="7.4"/><rect x="81.3" y="548.4" width="6.6" height="26.800000000000068"/>
<rect x="98.2" y="548.5" width="5.7" height="26.700000000000045"/><rect x="98.2" y="548.5" width="17.8" height="5.2"/>
<rect x="98.2" y="558.5" width="17.2" height="6.3"/><rect x="98.2" y="569.2" width="17.8" height="6.0"/>
<path fill-rule="evenodd" d="M120.8 548.4 H134 Q141.3 548.4 141.3 556.3 Q141.3 564.2 134 564.2 H126.9 V575.2 H120.8 Z M126.9 554.3 V558.6 H133.4 Q135.4 558.6 135.4 556.45 Q135.4 554.3 133.4 554.3 Z"/>
<path d="M129.4 564.3 L136 563.9 L142.7 575.2 L134.8 575.2 Z"/>
<path fill-rule="evenodd" d="M152.4 548.4 H160.6 L170.8 575.2 H162.4 L161.2 569.8 H150.9 L150 575.2 H144.6 Z M156 557.5 L153 564 H158.9 Z"/>
</g>
<g fill="none" stroke="#fff" stroke-width="2.3">
<path d="M174.1 566.85 H183"/>
<path d="M188.9 548.7 V575.2"/>
<path d="M197.2 558.4 V575.2"/>
<path d="M206.5 554.1 V571.5 Q206.5 574 209.5 574 H211.8 M201.4 559.4 H212"/>
<path d="M215.9 566.3 H229.5 Q229.5 559.5 222.7 559.5 Q215.9 559.5 215.9 566.6 Q215.9 573.6 222.7 573.6 Q227 573.6 229 571"/>
</g><circle cx="197.2" cy="552.3" r="1.4" fill="#fff"/>
<text transform="translate(64.88,597.12) scale(1.0226,1)" font-size="17.81" font-weight="normal" fill="#7b5c9b" stroke="#7b5c9b" stroke-width="0.34" stroke-linejoin="round">EXPEDITION RACE</text>
<text transform="translate(65.76,617.85) scale(1.0859,1)" font-size="18.90" font-weight="bold" fill="#6a3a90" stroke="#6a3a90" stroke-width="0.28" stroke-linejoin="round">SCOTLAND 2023</text>
<path d="M313.1 484.1 C311.5 486.2 306.3 492.2 303.8 496.6 C301.2 501.0 298.8 506.2 297.9 510.6 C297.0 515.0 297.1 518.7 298.6 523.1 C300.1 527.5 303.4 533.3 306.9 537.2 C310.4 541.1 314.6 544.3 319.4 546.6 C324.2 548.9 332.8 550.5 335.5 551.2" fill="none" stroke="#78bc44" stroke-width="5.8"/>
<path d="M391.2 552.0 C394.4 551.1 404.8 549.1 410.0 546.6 C415.2 544.1 419.4 541.4 422.5 537.2 C425.6 533.0 428.2 526.6 428.8 521.6 C429.3 516.6 427.4 511.4 425.6 507.5 C423.8 503.6 420.7 500.6 417.8 498.1 C414.9 495.6 410.0 493.6 407.4 492.4" fill="none" stroke="#78bc44" stroke-width="5.8"/>
<path d="M386.6 473.6 L417.8 481.4 L399.1 503.3 Z" fill="#78bc44"/>
<rect x="581" y="557.3" width="158.2" height="66.4" fill="#2a5592"/>
<path d="M592.1 597.6 Q598 583 604 573 Q609 565 618 564.8 L648.2 564.4 L607.8 597.6 Z" fill="#fff"/>
<path d="M592.1 597.6 Q593.6 593.5 595 590.5 Q610 583 621 577.4 Q636 569.6 647.8 564.6 L607.8 597.6 Z" fill="#efe07e"/>
<path d="M649.5 564.4 H654.3 Q652 577 642 589.4 Q634 597 620.8 597.6 Z" fill="#fff"/>
<path fill-rule="evenodd" fill="#fff" d="M641.9 598 L666.9 564.2 L683.5 564.2 L688.2 590.6 L692 564.2 L721.6 564.2 Q731.5 564.5 730.6 572.1 Q729.5 580.5 719.2 582.9 L729.2 598 L714.2 598 L704.4 584.1 L697.5 598 L677.1 598 L677.1 593.4 L655.8 593.4 L653 598 Z M671.5 575.3 L664.1 586.4 L675.3 586.4 Z M707.7 570.7 L717.9 570.7 Q720.5 575.5 714 580 L704.9 580 Z"/>
<text transform="translate(591.29,613.35) scale(1.0737,1)" font-size="13.37" font-weight="bold" fill="#c9cfdd" stroke="#c9cfdd" stroke-width="0.47" stroke-linejoin="round" font-style="italic">EUROPEAN SERIES</text>
<circle cx="789.4" cy="585.2" r="32.4" fill="#dc2a2e"/>
<g fill="none" stroke="#f9d6d6" stroke-width="1.05" stroke-linecap="round" stroke-linejoin="round">
<circle cx="795.9" cy="572.7" r="2.6"/>
<path d="M779.9 573.3 V592.2 M777.6 577 L779.9 574.2 L782.2 577 M777 580 L779.9 577.4 L782.8 580 M776.6 583.2 L779.9 580.6 L783.2 583.2 M776.2 586.4 L779.9 583.8 L783.6 586.4"/>
<path d="M772.3 581.4 V592.2 M770.4 584 L772.3 582 L774.2 584 M770 587 L772.3 585 L774.6 587 M769.8 590 L772.3 588 L774.8 590"/>
<path d="M789.6 576.5 V584 M788.2 578.6 L789.6 577.2 L791 578.6 M788 581 L789.6 579.6 L791.2 581"/>
<path d="M782 588.4 Q786 583 789.5 583.2 Q793 584 796 588 M792.5 584.6 L796.1 581.4 L800 586 L803.1 581.4 L809.1 586.8 M781 589.5 H810.2"/>
<path d="M769 593.3 q2 -1.2 4 0 t4 0 t4 0 t4 0 t4 0 t4 0 t4 0 t4 0 t4 0 t4 0"/>
<path d="M772.3 596.5 q2 -1.2 4 0 t4 0 t4 0 t4 0 t4 0 t4 0 t4 0 t4 0 t3.7 0"/>
<path d="M778.8 599.8 q2 -1.2 4 0 t4 0 t4 0 t4 0 t4 0 t2.7 0"/>
</g>
<text transform="translate(838.87,584.65) scale(0.9696,1)" font-size="28.92" font-weight="bold" fill="#231f20" stroke="#231f20" stroke-width="0.93" stroke-linejoin="round">D</text>
<text transform="translate(862.63,584.65) scale(0.9318,1)" font-size="28.92" font-weight="bold" fill="#231f20" stroke="#231f20" stroke-width="0.97" stroke-linejoin="round">U</text>
<text transform="translate(885.92,584.65) scale(0.7898,1)" font-size="28.92" font-weight="bold" fill="#231f20" stroke="#231f20" stroke-width="1.14" stroke-linejoin="round">R</text>
<text transform="translate(907.27,584.65) scale(0.8748,1)" font-size="28.92" font-weight="bold" fill="#231f20" stroke="#231f20" stroke-width="1.03" stroke-linejoin="round">T</text>
<text transform="translate(925.92,584.65) scale(1.0692,1)" font-size="28.92" font-weight="bold" fill="#231f20" stroke="#231f20" stroke-width="0.84" stroke-linejoin="round">Y</text>
<text transform="translate(839.00,606.70) scale(0.8749,1)" font-size="23.84" font-weight="bold" fill="#d8262c" stroke="#d8262c" stroke-width="1.14" stroke-linejoin="round">E</text>
<text transform="translate(856.06,606.70) scale(0.8797,1)" font-size="23.84" font-weight="bold" fill="#d8262c" stroke="#d8262c" stroke-width="1.14" stroke-linejoin="round">V</text>
<text transform="translate(875.04,606.70) scale(0.7926,1)" font-size="23.84" font-weight="bold" fill="#d8262c" stroke="#d8262c" stroke-width="1.26" stroke-linejoin="round">E</text>
<text transform="translate(892.63,606.70) scale(0.9205,1)" font-size="23.84" font-weight="bold" fill="#d8262c" stroke="#d8262c" stroke-width="1.09" stroke-linejoin="round">N</text>
<text transform="translate(911.55,606.70) scale(0.9261,1)" font-size="23.84" font-weight="bold" fill="#d8262c" stroke="#d8262c" stroke-width="1.08" stroke-linejoin="round">T</text>
<text transform="translate(928.21,606.70) scale(0.8543,1)" font-size="23.84" font-weight="bold" fill="#d8262c" stroke="#d8262c" stroke-width="1.17" stroke-linejoin="round">S</text>
</svg>
<div class="st" style="left:0;width:4.5px;background:linear-gradient(90deg,#e8e7ed,#dedde3 75%,#d3d2d8)"></div><div class="st" style="left:4.5px;width:2px;background:linear-gradient(90deg,#d8d7dc,#fff)"></div>
<div class="st" style="left:1017.5px;width:1.5px;background:linear-gradient(90deg,#fff,#d8d7dc)"></div><div class="st" style="left:1019px;width:5px;background:linear-gradient(90deg,#d3d2d8,#dedde3 25%,#e6e5eb)"></div>
</body></html>
